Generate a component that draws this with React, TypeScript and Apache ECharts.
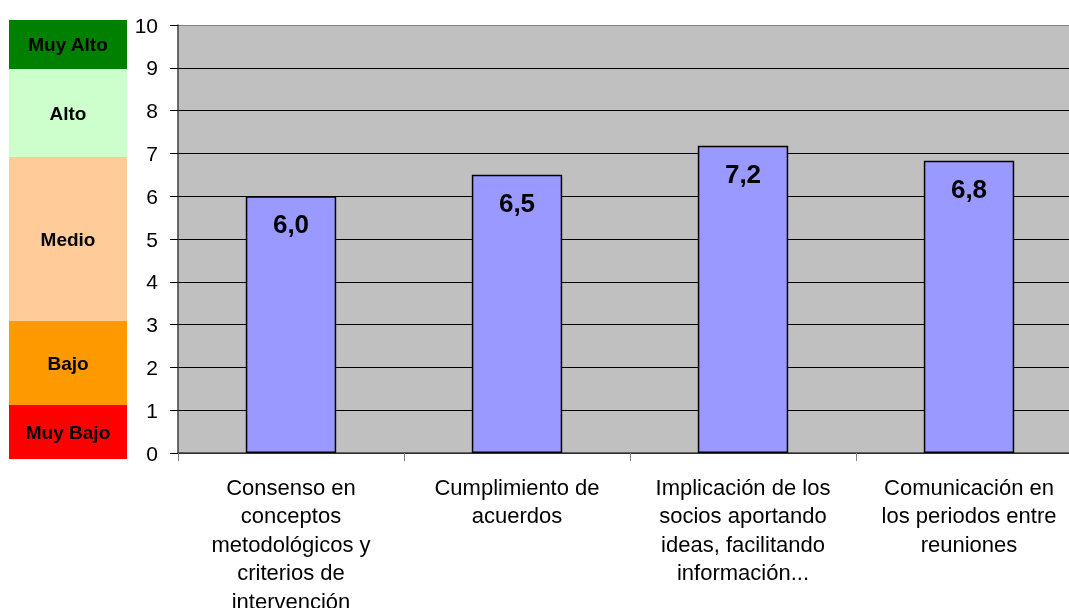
import React, { useEffect, useRef } from "react";
import * as echarts from "echarts";

const categories = [
  "Consenso en\nconceptos\nmetodológicos y\ncriterios de\nintervención",
  "Cumplimiento de\nacuerdos",
  "Implicación de los\nsocios aportando\nideas, facilitando\ninformación...",
  "Comunicación en\nlos periodos entre\nreuniones",
];
const values = [6.0, 6.5, 7.18, 6.83];
const yTicks = [0, 1, 2, 3, 4, 5, 6, 7, 8, 9, 10];

const bandLabels = ["Muy Alto", "Alto", "Medio", "Bajo", "Muy Bajo"];
const bandColors = ["#008000", "#CCFFCC", "#FFCC99", "#FF9900", "#FF0000"];
// pixel extents of the legend bands (top, bottom)
const bandExtents: [number, number][] = [
  [20, 69],
  [69, 157],
  [157, 321],
  [321, 405],
  [405, 459],
];

const FONT = "'Liberation Sans', Arial, sans-serif";

export default function App() {
  const ref = useRef<HTMLDivElement>(null);
  useEffect(() => {
    if (!ref.current) return;
    const chart = echarts.init(ref.current, null, { renderer: "svg" });
    const graphics: any[] = [];
    bandLabels.forEach((lab, i) => {
      const [t, b] = bandExtents[i];
      graphics.push({
        type: "rect",
        shape: { x: 9, y: t, width: 118, height: b - t },
        style: { fill: bandColors[i] },
        silent: true,
      });
      graphics.push({
        type: "text",
        x: 68,
        y: (t + b) / 2,
        style: {
          text: lab,
          fill: "#000",
          font: `bold 19px ${FONT}`,
          align: "center",
          verticalAlign: "middle",
        },
        silent: true,
      });
    });
    const splitColors = yTicks.map((v) => (v === 10 ? "#808080" : "#000000"));
    chart.setOption({
      animation: false,
      textStyle: { fontFamily: FONT },
      grid: {
        left: 178,
        top: 25,
        right: -13,
        bottom: 155,
        show: true,
        backgroundColor: "#C0C0C0",
        borderWidth: 0,
        containLabel: false,
        outerBoundsMode: "none",
      },
      graphic: graphics,
      xAxis: {
        type: "category",
        data: categories,
        boundaryGap: true,
        axisLine: { show: true, lineStyle: { color: "#404040", width: 1.5 } },
        axisTick: { show: true, length: 8, lineStyle: { color: "#808080" } },
        axisLabel: {
          color: "#000",
          fontSize: 22,
          lineHeight: 28.5,
          margin: 20,
          interval: 0,
          fontFamily: FONT,
        },
      },
      yAxis: {
        type: "value",
        min: 0,
        max: 10,
        interval: 1,
        axisLine: { show: true, lineStyle: { color: "#404040", width: 1.5 } },
        axisTick: { show: true, length: 8, lineStyle: { color: "#000" } },
        axisLabel: {
          color: "#000",
          fontSize: 21,
          margin: 20,
          fontFamily: FONT,
        },
        splitLine: { show: true, lineStyle: { color: splitColors, width: 1 } },
      },
      series: [
        {
          type: "bar",
          data: values,
          barWidth: "40%",
          itemStyle: { color: "#9999FF", borderColor: "#000", borderWidth: 1.5 },
          label: {
            show: true,
            position: "insideTop",
            distance: 15,
            color: "#000",
            fontSize: 26,
            fontWeight: "bold",
            fontFamily: FONT,
            formatter: (p: any) => Number(p.value).toFixed(1).replace(".", ","),
          },
        },
      ],
    });
    return () => chart.dispose();
  }, []);
  return (
    <div
      ref={ref}
      style={{ position: "fixed", left: 0, top: 0, width: 1069, height: 608 }}
    />
  );
}
